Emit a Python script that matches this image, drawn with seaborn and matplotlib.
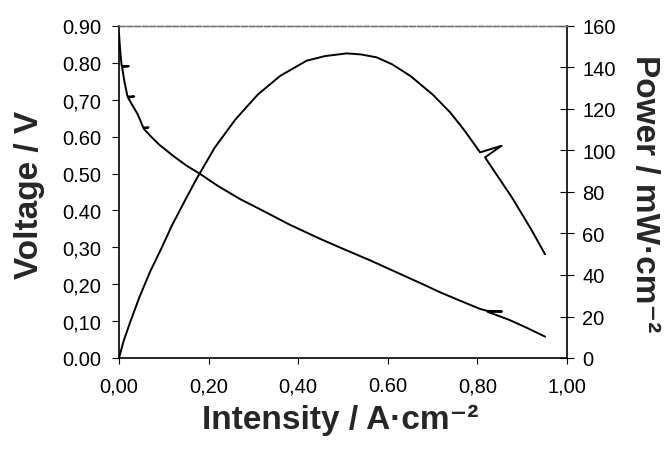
import matplotlib
matplotlib.use("Agg")
import matplotlib.pyplot as plt
import seaborn as sns
import pandas as pd

# Polarisation curve: current density (A/cm2) and cell voltage (V)
current_v = [0.000, 0.002, 0.004, 0.006, 0.022, 0.007, 0.012, 0.019, 0.034, 0.020,
             0.030, 0.042, 0.054, 0.066, 0.055, 0.070, 0.090, 0.121, 0.150, 0.181,
             0.220, 0.270, 0.320, 0.380, 0.449, 0.500, 0.560, 0.620, 0.680, 0.717,
             0.760, 0.806, 0.821, 0.855, 0.823, 0.870, 0.910, 0.951]
voltage = [0.880, 0.845, 0.815, 0.792, 0.791, 0.788, 0.750, 0.709, 0.709, 0.706,
           0.685, 0.660, 0.625, 0.625, 0.622, 0.602, 0.578, 0.548, 0.522, 0.499,
           0.467, 0.431, 0.400, 0.362, 0.323, 0.296, 0.265, 0.232, 0.199, 0.178,
           0.156, 0.133, 0.128, 0.126, 0.125, 0.104, 0.082, 0.058]

# Power density curve: current density (A/cm2) and power (mW/cm2)
current_p = [0.000, 0.010, 0.025, 0.045, 0.069, 0.095, 0.118, 0.145, 0.173, 0.214,
             0.260, 0.310, 0.360, 0.419, 0.460, 0.508, 0.540, 0.575, 0.610, 0.650,
             0.700, 0.739, 0.770, 0.806, 0.854, 0.817, 0.877, 0.920, 0.951]
power = [0.0, 8.0, 17.3, 29.0, 41.4, 53.0, 63.8, 75.0, 86.3, 101.5,
         115.0, 127.0, 136.0, 143.3, 145.5, 146.8, 146.3, 144.9, 141.5, 136.0,
         127.0, 118.4, 110.0, 99.1, 102.3, 96.7, 77.4, 62.0, 50.0]

x_ticks = [0.0, 0.2, 0.4, 0.6, 0.8, 1.0]
x_ticklabels = ["0,00", "0,20", "0,40", "0.60", "0,80", "1,00"]
v_ticks = [0.0, 0.1, 0.2, 0.3, 0.4, 0.5, 0.6, 0.7, 0.8, 0.9]
v_ticklabels = ["0.00", "0,10", "0,20", "0,30", "0.40", "0.50", "0.60", "0,70", "0.80", "0.90"]
p_ticks = [0, 20, 40, 60, 80, 100, 120, 140, 160]
p_ticklabels = ["0", "20", "40", "60", "80", "100", "120", "140", "160"]

sns.set_style("ticks")
plt.rcParams["font.family"] = ["Liberation Sans", "DejaVu Sans"]

df_v = pd.DataFrame({"i": current_v, "V": voltage})
df_p = pd.DataFrame({"i": current_p, "P": power})

fig = plt.figure(figsize=(6.69, 4.52), dpi=100)
ax = fig.add_axes([119 / 669, 1 - 359 / 452, 448 / 669, 332 / 452])
ax2 = ax.twinx()

sns.lineplot(data=df_v, x="i", y="V", sort=False, estimator=None,
             color="black", lw=1.4, ax=ax)
sns.lineplot(data=df_p, x="i", y="P", sort=False, estimator=None,
             color="black", lw=1.4, ax=ax2)

ax.set_xlim(0, 1.0)
ax.set_ylim(0, 0.9)
ax2.set_ylim(0, 160)

ax.set_xticks(x_ticks)
ax.set_xticklabels(x_ticklabels)
ax.set_yticks(v_ticks)
ax.set_yticklabels(v_ticklabels)
ax2.set_yticks(p_ticks)
ax2.set_yticklabels(p_ticklabels)

ax.tick_params(axis="x", direction="out", length=4, width=0.8, pad=9,
               labelsize=14.5, colors="black")
ax.tick_params(axis="y", direction="out", length=5, width=0.8, pad=8,
               labelsize=14.5, colors="black")
ax2.tick_params(axis="y", direction="inout", length=10, width=0.8, pad=6,
                labelsize=14.5, colors="black")

for a in (ax, ax2):
    for side in ("left", "right", "bottom"):
        a.spines[side].set_color("black")
        a.spines[side].set_linewidth(1.2)
    a.spines["top"].set_color("0.45")
    a.spines["top"].set_linewidth(1.0)
    a.spines["top"].set_linestyle((0, (4, 1.5)))
ax.spines["right"].set_visible(False)
ax2.spines["left"].set_visible(False)
ax2.spines["bottom"].set_visible(False)

title_font = dict(fontsize=24, fontweight="bold")
ax.set_xlabel("Intensity / A·cm⁻²", **title_font)
ax.set_ylabel("Voltage / V", **title_font)
ax2.set_ylabel("Power / mW·cm⁻²", rotation=-90, **title_font)

ax.xaxis.set_label_coords(0.493, -0.185)
ax.xaxis.label.set_va("center")
ax.yaxis.set_label_coords(-0.199, 0.494)
ax.yaxis.label.set_va("center")
ax2.yaxis.set_label_coords(1.174, 0.497)
ax2.yaxis.label.set_va("center")

fig.savefig("out.png", dpi=100)
